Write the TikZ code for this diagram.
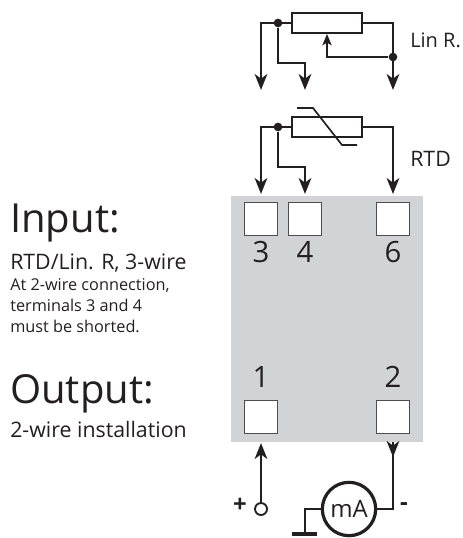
\documentclass[tikz,border=0pt]{standalone}
\usepackage{fontspec}
\setmainfont{Open Sans}
\usetikzlibrary{arrows.meta}
\definecolor{boxgray}{RGB}{209,211,212}
\definecolor{inkgray}{RGB}{35,31,32}
\begin{document}
\begin{tikzpicture}
[
  x=0.75pt, y=-0.75pt,
  wire/.style = {draw=inkgray, line width=1.25pt},
  feed/.style = {wire, -{Stealth[length=12pt,width=9.5pt,inset=3.5pt]}},
  dot/.style = {circle, fill=inkgray, inner sep=0pt, minimum size=6.5pt},
  resistor/.style = {draw=inkgray, line width=1.5pt, minimum width=52pt, minimum height=15pt, inner sep=0pt},
  terminal/.style = {draw=inkgray!80, fill=white, line width=0.8pt, minimum size=24.5pt, inner sep=0pt},
  number/.style = {text=inkgray, inner sep=0pt, font=\fontsize{22}{22}\selectfont},
  title/.style = {text=inkgray, anchor=base west, inner sep=0pt, font=\fontsize{30}{30}\selectfont},
  body/.style = {text=inkgray, anchor=base west, inner sep=0pt, font=\fontsize{16}{16}\selectfont},
  small/.style = {text=inkgray, anchor=base west, inner sep=0pt, font=\fontsize{12.2}{12.2}\selectfont},
]
\useasboundingbox (0,0) rectangle (462,538);

\coordinate (A3) at (261,90); %Lin R. arrow ends
\coordinate (A4) at (305,90);
\coordinate (A6) at (393,90);
\coordinate (B4) at (305,63);
\coordinate (C3) at (261,194); %RTD arrow ends
\coordinate (C4) at (305,194);
\coordinate (C6) at (393,194);
\coordinate (D4) at (305,167);
\coordinate (P) at (261,443); %terminal 1 entry
\coordinate (M) at (393,457); %terminal 2 exit
\coordinate (Mtop) at (393,442);
\coordinate (G) at (305,534); %ground
\coordinate (GL) at (292,534);
\coordinate (GR) at (317,534);
\coordinate (S1) at (297,108); %slash of RTD
\coordinate (S2) at (313,108);
\coordinate (S3) at (342,145);
\coordinate (S4) at (357,145);

%module
\fill[boxgray] (231,196) rectangle (423,442);
\node[terminal] (T3) at (261,219) {};
\node[terminal] (T4) at (305,219) {};
\node[terminal] (T6) at (393,219) {};
\node[terminal] (T1) at (261,417) {};
\node[terminal] (T2) at (393,417) {};
\node[number] (N3) at (261,252) {3};
\node[number] (N4) at (305,252) {4};
\node[number] (N6) at (393,252) {6};
\node[number] (N1) at (261,377) {1};
\node[number] (N2) at (393,377) {2};

%Lin R.
\node[resistor] (Rlin) at (327,23) {};
\node[dot] (Jlin) at (278,23) {};
\node[dot] (Jwiper) at (393,57) {};
\draw[feed] (Rlin.west) -| (A3);
\draw[feed] (Jlin) |- (B4) -- (A4);
\draw[feed] (Rlin.east) -| (A6);
\draw[wire, -{Stealth[length=8.5pt,width=7pt,inset=2pt]}] (Jwiper) -| (Rlin.south);

%RTD
\node[resistor] (Rrtd) at (327,127) {};
\node[dot] (Jrtd) at (278,127) {};
\draw[feed] (Rrtd.west) -| (C3);
\draw[feed] (Jrtd) |- (D4) -- (C4);
\draw[feed] (Rrtd.east) -| (C6);
\draw[wire] (S1) -- (S2) -- (S3) -- (S4);

%output loop
\node[draw=inkgray, fill=white, circle, line width=1.4pt, inner sep=0pt, minimum size=9pt] (Plus) at (261,509) {};
\node[draw=inkgray, circle, line width=2.4pt, inner sep=0pt, minimum size=40pt, text=inkgray, font=\fontsize{18}{18}\selectfont] (Meter) at (349,509) {mA};
\draw[feed] (Plus) -- (P);
\draw[feed] (Meter.east) -| (Mtop) -- (M);
\draw[wire] (Meter.west) -| (G);
\draw[draw=inkgray, line width=2.4pt] (GL) -- (GR);
\node[text=inkgray, inner sep=0pt, font=\bfseries\fontsize{18}{18}\selectfont] (Lplus) at (240,505) {+};
\node[text=inkgray, inner sep=0pt, font=\bfseries\fontsize{18}{18}\selectfont] (Lminus) at (404,507) {-};

%labels
\node[body, font=\fontsize{15}{15}\selectfont] (Llin) at (410,48) {Lin R.};
\node[body] (Lrtd) at (410,167) {RTD};
\node[title] (Linput) at (10,232) {Input:};
\node[body] (Ltype) at (10,269) {RTD/Lin. R, 3-wire};
\node[small] (Lnote1) at (10,290) {At 2-wire connection,};
\node[small] (Lnote2) at (10,311) {terminals 3 and 4};
\node[small] (Lnote3) at (10,332) {must be shorted.};
\node[title] (Loutput) at (10,403) {Output:};
\node[body] (Linst) at (10,437) {2-wire installation};
\end{tikzpicture}
\end{document}
